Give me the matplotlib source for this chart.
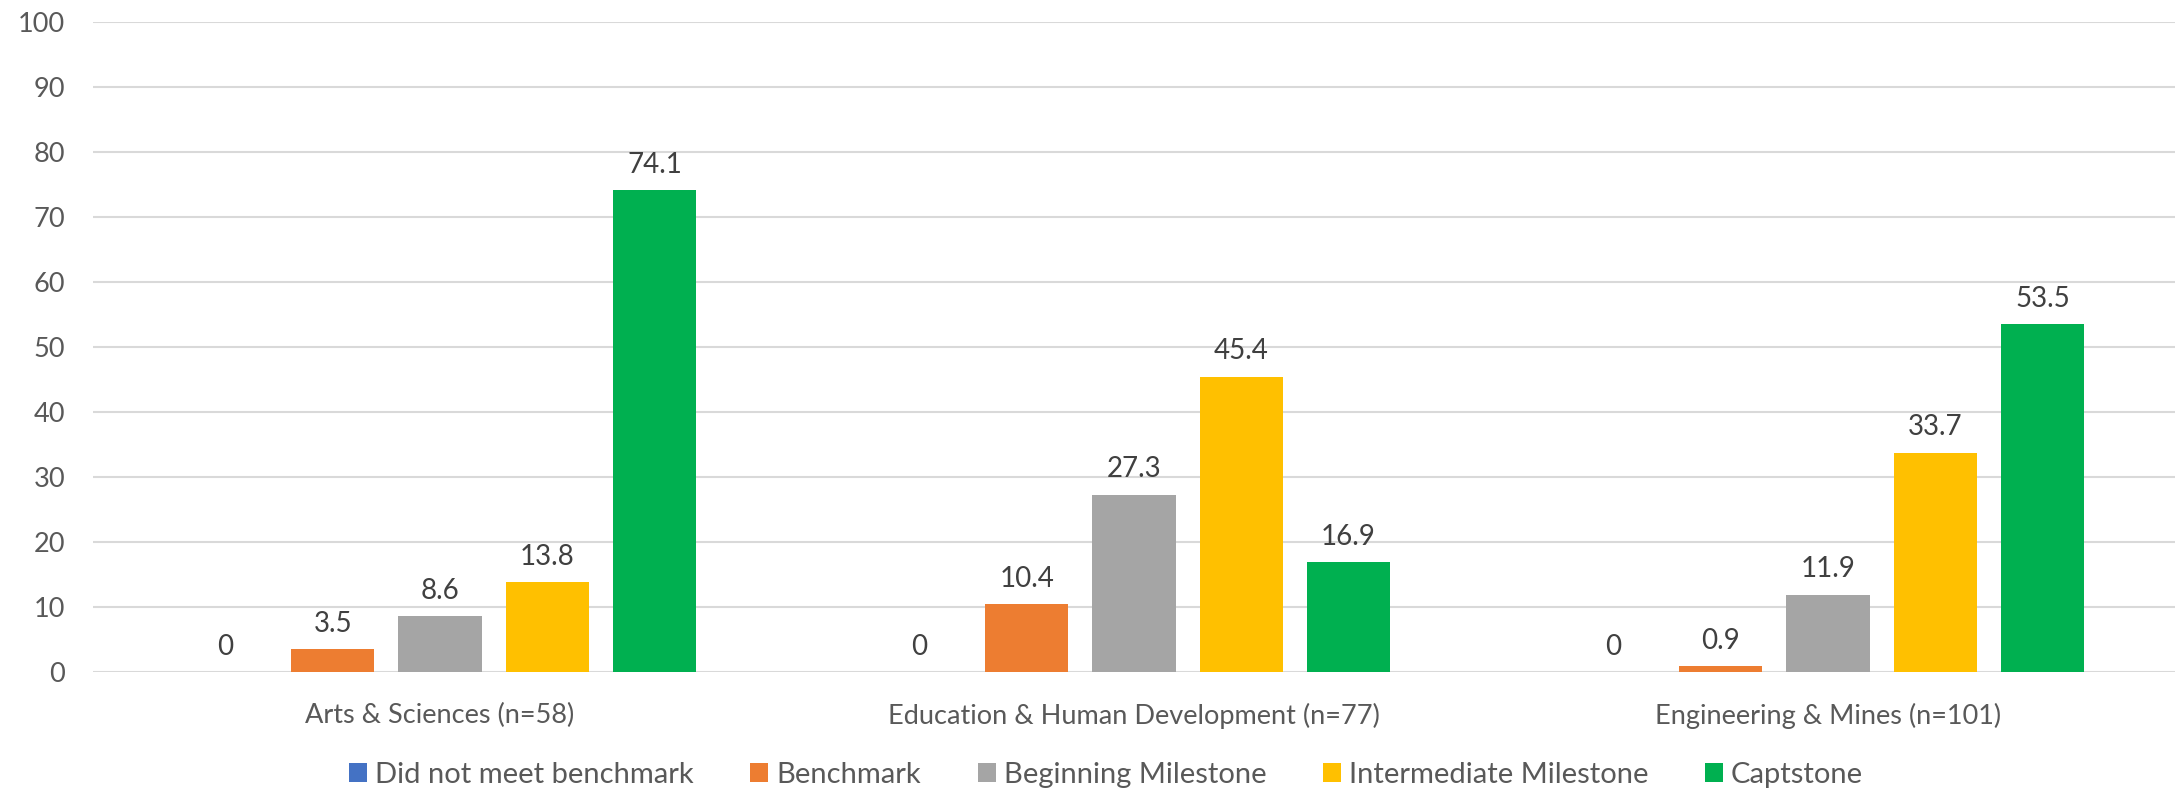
import matplotlib
matplotlib.use("Agg")
import matplotlib.pyplot as plt
import numpy as np

categories = ["Arts & Sciences (n=58)", "Education & Human Development (n=77)", "Engineering & Mines (n=101)"]
series_names = ["Did not meet benchmark", "Benchmark", "Beginning Milestone", "Intermediate Milestone", "Captstone"]
did_not_meet = [0, 0, 0]
benchmark = [3.5, 10.4, 0.9]
beginning = [8.6, 27.3, 11.9]
intermediate = [13.8, 45.4, 33.7]
captstone = [74.1, 16.9, 53.5]
yticks = [0, 10, 20, 30, 40, 50, 60, 70, 80, 90, 100]

series = [did_not_meet, benchmark, beginning, intermediate, captstone]
colors = ["#4472C4", "#ED7D31", "#A5A5A5", "#FFC000", "#00B050"]

plt.rcParams['font.family'] = ['Lato', 'DejaVu Sans']

fig = plt.figure(figsize=(21.83, 7.92), dpi=100)
ax = fig.add_axes([0.0426, 0.1515, 0.9537, 0.8207])

x = np.arange(len(categories))
step = 0.1546
width = 0.12
for i, (vals, c, name) in enumerate(zip(series, colors, series_names)):
    pos = x + (i - 2) * step
    bars = ax.bar(pos, vals, width=width, color=c, label=name, zorder=3)
    labels = [("%g" % v) for v in vals]
    ax.bar_label(bars, labels=labels, padding=9, fontsize=20, color="#404040")

ax.set_xlim(-0.5, 2.5)
ax.set_ylim(0, 100)
ax.set_yticks(yticks)
ax.set_yticklabels([str(t) for t in yticks])
ax.set_xticks(x)
ax.set_xticklabels(categories)
ax.tick_params(axis='both', length=0, labelsize=19.5, labelcolor="#595959")
ax.tick_params(axis='y', pad=20)
ax.tick_params(axis='x', pad=22)
ax.grid(axis='y', color="#D9D9D9", linewidth=1.5, zorder=0)
for s in ax.spines.values():
    s.set_visible(False)

fs = 21
leg = fig.legend(loc='center', bbox_to_anchor=(0.5067, 0.0215), ncol=5, frameon=False,
                 fontsize=fs, handlelength=0.62, handleheight=0.62, columnspacing=1.93,
                 handletextpad=0.28, labelcolor="#595959", borderaxespad=0, borderpad=0)

fig.savefig("out.png", dpi=100)
